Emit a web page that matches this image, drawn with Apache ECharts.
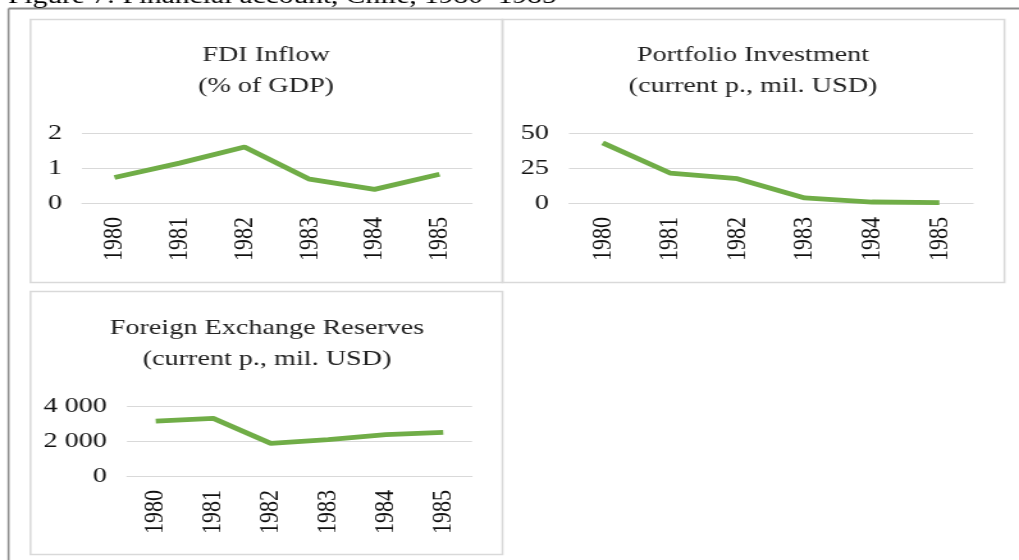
<!DOCTYPE html>
<html>
<head>
<meta charset="utf-8">
<script src="https://cdn.jsdelivr.net/npm/echarts@6/dist/echarts.min.js"></script>
<style>
html,body{margin:0;padding:0;background:#fff;overflow:hidden;}
#wrap{width:1019px;height:560px;overflow:hidden;position:relative;}
#c{width:796px;height:560px;transform:scaleX(1.28015);transform-origin:0 0;position:absolute;left:0;top:0;}
</style>
</head>
<body>
<div id="wrap"><div id="c"></div></div>
<script>
var years = ['1980','1981','1982','1983','1984','1985'];
var fdiInflow = [0.73, 1.14, 1.60, 0.68, 0.39, 0.82];
var portfolioInvestment = [42.9, 21.4, 17.4, 3.6, 0.7, 0.2];
var fxReserves = [3140, 3290, 1870, 2080, 2370, 2490];
var figureCaption = 'Figure 7: Financial account, Chile, 1980–1985';
var panelTitles = [
  'FDI Inflow\n(% of GDP)',
  'Portfolio Investment\n(current p., mil. USD)',
  'Foreign Exchange Reserves\n(current p., mil. USD)'
];

var S = 1019 / 796;           // horizontal stretch of the original figure
function X(px){ return px / S; } // page x -> chart x

var FONT = '"Liberation Serif", "Times New Roman", serif';
var GREEN = '#70ad47';
var GRIDC = '#d9d9d9';

function fmtSpace(v){
  return String(v).replace(/\B(?=(\d{3})+(?!\d))/g, ' ');
}

var grids = [
  {left:X(82), top:133, width:X(390), height:70},
  {left:X(569), top:133, width:X(404), height:70},
  {left:X(127), top:406, width:X(345), height:70}
];
var yCfg = [
  {max:2, interval:1},
  {max:50, interval:25},
  {max:4000, interval:2000}
];
var seriesData = [fdiInflow, portfolioInvestment, fxReserves];

var xAxes = [], yAxes = [], series = [];
for (var i=0;i<3;i++){
  xAxes.push({
    type:'category', gridIndex:i, data:years, boundaryGap:true,
    axisLine:{show:true, lineStyle:{color:GRIDC, width:1}},
    axisTick:{show:false},
    axisLabel:{rotate:90, margin:14, color:'#111', fontFamily:FONT, fontSize:22, interval:0}
  });
  yAxes.push({
    type:'value', gridIndex:i, min:0, max:yCfg[i].max, interval:yCfg[i].interval,
    axisLine:{show:false}, axisTick:{show:false},
    splitLine:{lineStyle:{color:GRIDC, width:1}},
    axisLabel:{margin:X(20), color:'#111', fontFamily:FONT, fontSize:22, formatter:fmtSpace}
  });
  series.push({
    type:'line', xAxisIndex:i, yAxisIndex:i, data:seriesData[i],
    symbol:'none', lineStyle:{color:GREEN, width:4.8}, animation:false
  });
}

var titlePos = [[X(266), 71], [X(753), 71], [X(267), 344]];
var graphics = [
  // outer frame
  {type:'line', shape:{x1:X(8.5), y1:8.5, x2:800, y2:8.5}, style:{stroke:'#8c8c8c', lineWidth:2}},
  {type:'line', shape:{x1:X(8.5), y1:8.5, x2:X(8.5), y2:560}, style:{stroke:'#8c8c8c', lineWidth:1.6}},
  // panels
  {type:'rect', shape:{x:X(30.5), y:19.5, width:X(472), height:263}, style:{fill:'none', stroke:GRIDC, lineWidth:1.5}},
  {type:'rect', shape:{x:X(502.5), y:19.5, width:X(502), height:263}, style:{fill:'none', stroke:GRIDC, lineWidth:1.5}},
  {type:'rect', shape:{x:X(30.5), y:291.5, width:X(472), height:263}, style:{fill:'none', stroke:GRIDC, lineWidth:1.5}},
  // caption (cut off at top)
  {type:'text', x:X(8), y:-3, style:{text:figureCaption, font:'23px ' + FONT, fill:'#000', textAlign:'left', textVerticalAlign:'middle'}}
];
for (var j=0;j<3;j++){
  graphics.push({type:'text', x:titlePos[j][0], y:titlePos[j][1],
    style:{text:panelTitles[j], font:'22px ' + FONT, fill:'#222', textAlign:'center', textVerticalAlign:'middle', lineHeight:31}});
}

var chart = echarts.init(document.getElementById('c'), null, {renderer:'canvas', width:796, height:560});
chart.setOption({
  animation:false,
  backgroundColor:'#fff',
  grid:grids,
  xAxis:xAxes,
  yAxis:yAxes,
  series:series,
  graphic:graphics
});
</script>
</body>
</html>
